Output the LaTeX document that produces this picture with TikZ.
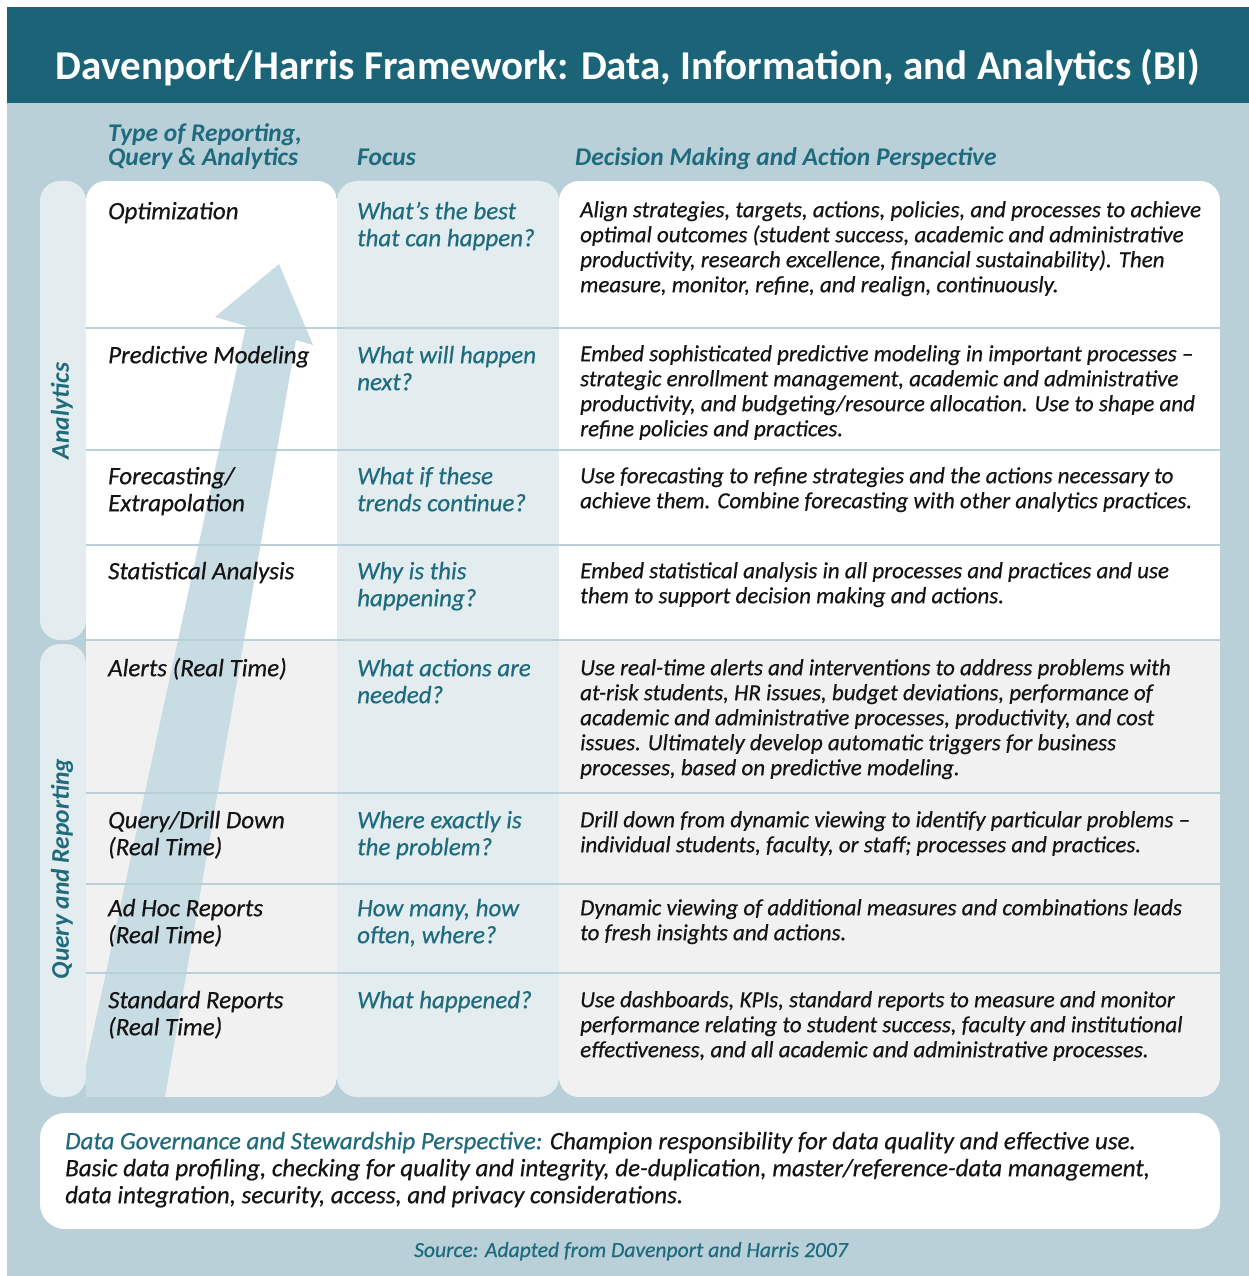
\documentclass[tikz,border=0pt]{standalone}
\usepackage{fontspec}
\setmainfont{Carlito}
\newfontfamily\bodyfam{Carlito}[FakeBold=0.5]
\definecolor{bandc}{HTML}{1B6477}
\definecolor{bgc}{HTML}{B9D0D8}
\definecolor{tealtxt}{HTML}{1F6B7E}
\definecolor{collight}{HTML}{E3ECEF}
\definecolor{greyc}{HTML}{F1F1F1}
\definecolor{arrowc}{HTML}{C8DCE3}
\definecolor{ink}{HTML}{141414}
\tikzset{
  hdr/.style={inner sep=0pt, text=tealtxt, font=\fontsize{25.5}{22}\selectfont\bfseries\itshape},
  typecell/.style={anchor=north west, inner sep=0pt, align=left, text=ink, font=\bodyfam\fontsize{25}{27}\selectfont\itshape},
  focuscell/.style={anchor=north west, inner sep=0pt, align=left, text=tealtxt, font=\bodyfam\fontsize{25}{27}\selectfont\itshape},
  desccell/.style={anchor=north west, inner sep=0pt, align=left, text=ink, font=\bodyfam\fontsize{23}{25}\selectfont\itshape},
  rowline/.style={bgc, line width=2.5pt},
}
\begin{document}
\begin{tikzpicture}[x=1pt,y=-1pt]
\useasboundingbox (0,0) rectangle (1249,1276);
\fill[white] (0,0) rectangle (1249,1276);
\fill[bgc] (7,7) rectangle (1249,1276);
\fill[bandc] (7,7) rectangle (1249,103);
\node[anchor=base, inner sep=0pt, text=white, font=\fontsize{41}{44}\selectfont\bfseries] (title) at (628,80) {Davenport/Harris Framework: Data, Information, and Analytics (BI)};

% headers
\node[hdr, anchor=base west] (h1a) at (108,142) {Type of Reporting,};
\node[hdr, anchor=base west] (h1b) at (108,166) {Query \& Analytics};
\node[hdr, anchor=base west] (h2) at (357,166) {Focus};
\node[hdr, anchor=base west] (h3) at (575,166) {Decision Making and Action Perspective};

% side bars
\fill[collight, rounded corners=20pt] (40,181) rectangle (86,640);
\fill[collight, rounded corners=20pt] (40,644) rectangle (86,1097);
\node[hdr, rotate=90] (lab1) at (62,411) {Analytics};
\node[hdr, rotate=90] (lab2) at (62,869) {Query and Reporting};

% columns
\begin{scope}
  \clip[rounded corners=20pt] (86,181) rectangle (337,1097);
  \fill[white] (86,181) rectangle (337,640);
  \fill[greyc] (86,640) rectangle (337,1097);
\end{scope}
\fill[greyc] (86,1070) rectangle (110,1097);
\fill[collight, rounded corners=20pt] (337,181) rectangle (559,1097);
\begin{scope}
  \clip[rounded corners=20pt] (559,181) rectangle (1220,1097);
  \fill[white] (559,181) rectangle (1220,640);
  \fill[greyc] (559,640) rectangle (1220,1097);
\end{scope}

% arrow
\begin{scope}
  \clip (86,181) rectangle (337,1097);
  \fill[arrowc] (79,1097) -- (165,1097) -- (296,340) -- (313,345) -- (279,264) -- (215,317) -- (246,326) -- cycle;
\end{scope}

% row lines
\foreach \yy in {328,450,545,640,793,884,973}
  \draw[rowline] (86,\yy) -- (1220,\yy);

% column 1
\node[typecell] (t1) at (108,200.1) {\strut Optimization};
\node[typecell] (t2) at (108,344.1) {\strut Predictive Modeling};
\node[typecell] (t3) at (108,465.1) {\strut Forecasting/\\Extrapolation};
\node[typecell] (t4) at (108,560.1) {\strut Statistical Analysis};
\node[typecell] (t5) at (108,657.1) {\strut Alerts (Real Time)};
\node[typecell] (t6) at (108,809.1) {\strut Query/Drill Down\\(Real Time)};
\node[typecell] (t7) at (108,897.1) {\strut Ad Hoc Reports\\(Real Time)};
\node[typecell] (t8) at (108,989.1) {\strut Standard Reports\\(Real Time)};

% column 2
\node[focuscell] (f1) at (357,200.1) {\strut What’s the best\\that can happen?};
\node[focuscell] (f2) at (357,344.1) {\strut What will happen\\next?};
\node[focuscell] (f3) at (357,465.1) {\strut What if these\\trends continue?};
\node[focuscell] (f4) at (357,560.1) {\strut Why is this\\happening?};
\node[focuscell] (f5) at (357,657.1) {\strut What actions are\\needed?};
\node[focuscell] (f6) at (357,809.1) {\strut Where exactly is\\the problem?};
\node[focuscell] (f7) at (357,897.1) {\strut How many, how\\often, where?};
\node[focuscell] (f8) at (357,989.1) {\strut What happened?};

% column 3
\node[desccell] (d1) at (580,199.5) {\strut Align strategies, targets, actions, policies, and processes to achieve\\optimal outcomes (student success, academic and administrative\\productivity, research excellence, financial sustainability). Then\\measure, monitor, refine, and realign, continuously.};
\node[desccell] (d2) at (580,343.5) {\strut Embed sophisticated predictive modeling in important processes –\\strategic enrollment management, academic and administrative\\productivity, and budgeting/resource allocation. Use to shape and\\refine policies and practices.};
\node[desccell] (d3) at (580,465.5) {\strut Use forecasting to refine strategies and the actions necessary to\\achieve them. Combine forecasting with other analytics practices.};
\node[desccell] (d4) at (580,560.5) {\strut Embed statistical analysis in all processes and practices and use\\them to support decision making and actions.};
\node[desccell] (d5) at (580,657.5) {\strut Use real-time alerts and interventions to address problems with\\at-risk students, HR issues, budget deviations, performance of\\academic and administrative processes, productivity, and cost\\issues. Ultimately develop automatic triggers for business\\processes, based on predictive modeling.};
\node[desccell] (d6) at (580,809.5) {\strut Drill down from dynamic viewing to identify particular problems –\\individual students, faculty, or staff; processes and practices.};
\node[desccell] (d7) at (580,897.5) {\strut Dynamic viewing of additional measures and combinations leads\\to fresh insights and actions.};
\node[desccell] (d8) at (580,989.5) {\strut Use dashboards, KPIs, standard reports to measure and monitor\\performance relating to student success, faculty and institutional\\effectiveness, and all academic and administrative processes.};

% governance box
\fill[white, rounded corners=25pt] (40,1113) rectangle (1220,1229);
\node[typecell] (gov) at (65,1130.1) {\strut{\color{tealtxt}Data Governance and Stewardship Perspective:} Champion responsibility for data quality and effective use.\\Basic data profiling, checking for quality and integrity, de-duplication, master/reference-data management,\\data integration, security, access, and privacy considerations.};

\node[anchor=base, inner sep=0pt, text=tealtxt, font=\bodyfam\fontsize{21.6}{24}\selectfont\itshape] (src) at (631,1257) {Source: Adapted from Davenport and Harris 2007};
\end{tikzpicture}
\end{document}
